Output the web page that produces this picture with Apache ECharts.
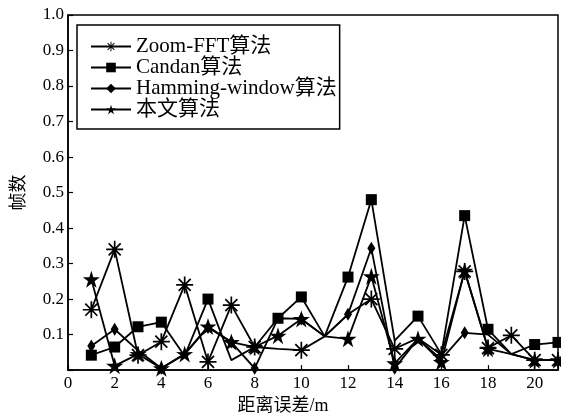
<!DOCTYPE html>
<html>
<head>
<meta charset="utf-8">
<script src="https://cdn.jsdelivr.net/npm/echarts@6/dist/echarts.min.js"></script>
<style>html,body{margin:0;padding:0;background:#fff}#c{width:561px;height:420px}</style>
</head>
<body>
<div id="c"></div>
<script>
// distance error (m)
const distance = [1,2,3,4,5,6,7,8,9,10,11,12,13,14,15,16,17,18,19,20,21];
const xTicks = [0,2,4,6,8,10,12,14,16,18,20];
const seriesNames = ['Zoom-FFT算法', 'Candan算法', 'Hamming-window算法', '本文算法'];
const zoomFFT = [0.17,0.34,0.042,0.08,0.24,0.023,0.183,0.065,0.06,0.056,0.095,0.157,0.2,0.06,0.09,0.043,0.278,0.062,0.098,0.028,0.028];
const candan  = [0.042,0.065,0.122,0.135,0.04,0.2,0.028,0.065,0.146,0.206,0.095,0.262,0.48,0.083,0.152,0.045,0.435,0.115,0.045,0.072,0.078];
const hamming = [0.068,0.115,0.055,0.005,0.045,0.12,0.079,0.005,0.146,0.144,0.095,0.157,0.343,0.005,0.088,0.03,0.105,0.1,0.045,0.028,0.028];
const benwen  = [0.256,0.012,0.045,0.005,0.045,0.123,0.079,0.065,0.097,0.144,0.095,0.088,0.264,0.019,0.088,0.023,0.28,0.06,0.045,0.028,0.028];
// x positions where the reference shows a vertex without a marker
const noMarkZoom = [9,11,12,15];
const noMarkCandan = [5,7,8,11,14,16,19];
const noMarkHamming = [3,5,9,11,15,16,18,19,20,21];
const noMarkBenwen = [11,19];

const ASTERISK = 'path://M9 0H11V20H9Z M0 9H20V11H0Z M3.64 2.22L17.78 16.36L16.36 17.78L2.22 3.64Z M16.36 2.22L17.78 3.64L3.64 17.78L2.22 16.36Z';
const STAR = 'path://M50 0L61.17 34.63L97.55 34.55L68.07 55.87L79.39 90.45L50 69L20.61 90.45L31.93 55.87L2.45 34.55L38.83 34.63Z';

function build(vals, noMark) {
  return distance.map((x, i) => noMark.includes(x) ? {value: [x, vals[i]], symbol: 'none'} : [x, vals[i]]);
}
function mk(name, vals, noMark, symbol, size) {
  return {
    name: name, type: 'line', data: build(vals, noMark),
    symbol: symbol, symbolSize: size, showAllSymbol: true,
    lineStyle: {color: '#000', width: 1.8},
    itemStyle: {color: '#000', borderWidth: 0},
    clip: false, z: 3
  };
}
const serif = "'Liberation Serif', 'Noto Sans CJK SC', serif";
const chart = echarts.init(document.getElementById('c'), null, {renderer: 'canvas'});
chart.setOption({
  animation: false,
  backgroundColor: '#fff',
  grid: {left: 66, right: 2, top: 15, bottom: 45, show: true, borderColor: '#000', borderWidth: 1.5, containLabel: false},
  legend: {
    orient: 'vertical', left: 77, top: 25,
    padding: [11, 3, 9, 13], itemGap: 0, itemWidth: 40, itemHeight: 12,
    borderColor: '#000', borderWidth: 1.5, backgroundColor: '#fff',
    textStyle: {fontFamily: serif, fontSize: 21, lineHeight: 20.8, color: '#000'},
    data: seriesNames
  },
  xAxis: {
    type: 'value', min: 0, max: 21, interval: 2,
    name: '距离误差/m', nameLocation: 'middle', nameGap: 23,
    nameTextStyle: {fontFamily: serif, fontSize: 18, color: '#000', padding: [0, 60, 0, 0]},
    axisLine: {show: true, lineStyle: {color: '#000', width: 1.5}},
    axisTick: {show: true, inside: true, length: 5, lineStyle: {color: '#000', width: 1.2}},
    axisLabel: {fontFamily: serif, fontSize: 17, color: '#000', margin: 5,
      formatter: v => xTicks.includes(v) ? String(v) : ''},
    splitLine: {show: false}
  },
  yAxis: {
    type: 'value', min: 0, max: 1, interval: 0.1,
    name: '帧数', nameLocation: 'middle', nameGap: 42,
    nameTextStyle: {fontFamily: "'Noto Sans CJK SC', sans-serif", fontSize: 18, color: '#000'},
    axisLine: {show: true, lineStyle: {color: '#000', width: 1.5}},
    axisTick: {show: true, inside: true, length: 5, lineStyle: {color: '#000', width: 1.2}},
    axisLabel: {fontFamily: serif, fontSize: 17, color: '#000', margin: 4,
      formatter: v => v === 0 ? '' : v.toFixed(1)},
    splitLine: {show: false}
  },
  series: [
    mk(seriesNames[0], zoomFFT, noMarkZoom, ASTERISK, 17),
    mk(seriesNames[1], candan, noMarkCandan, 'rect', 11),
    mk(seriesNames[2], hamming, noMarkHamming, 'diamond', [8, 13]),
    mk(seriesNames[3], benwen, noMarkBenwen, STAR, 17)
  ]
});
</script>
</body>
</html>
